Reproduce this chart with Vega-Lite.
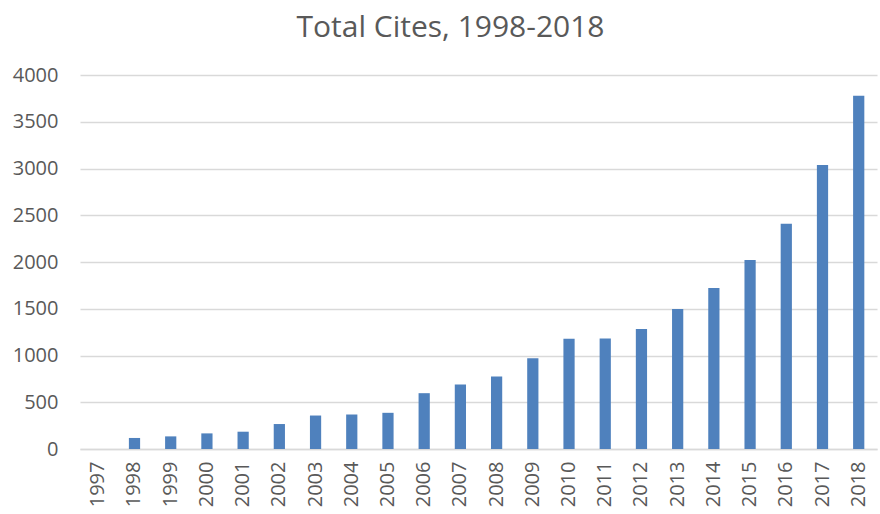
{
  "$schema": "https://vega.github.io/schema/vega-lite/v6.json",
  "width": 797,
  "height": 374,
  "autosize": {"type": "none"},
  "padding": {"left": 80, "top": 75, "right": 3, "bottom": 65},
  "background": "white",
  "title": {
    "text": "Total Cites, 1998-2018",
    "font": "Open Sans",
    "fontSize": 30,
    "fontWeight": "normal",
    "color": "#595959",
    "anchor": "middle",
    "dx": -28,
    "offset": 22
  },
  "data": {
    "values": [
      {"year": "1997", "cites": 0},
      {"year": "1998", "cites": 118},
      {"year": "1999", "cites": 135},
      {"year": "2000", "cites": 167},
      {"year": "2001", "cites": 185},
      {"year": "2002", "cites": 267},
      {"year": "2003", "cites": 358},
      {"year": "2004", "cites": 369},
      {"year": "2005", "cites": 387},
      {"year": "2006", "cites": 597},
      {"year": "2007", "cites": 690},
      {"year": "2008", "cites": 775},
      {"year": "2009", "cites": 971},
      {"year": "2010", "cites": 1178},
      {"year": "2011", "cites": 1183},
      {"year": "2012", "cites": 1283},
      {"year": "2013", "cites": 1497},
      {"year": "2014", "cites": 1722},
      {"year": "2015", "cites": 2021},
      {"year": "2016", "cites": 2410},
      {"year": "2017", "cites": 3037},
      {"year": "2018", "cites": 3779}
    ]
  },
  "mark": {"type": "bar", "color": "#4F81BD"},
  "encoding": {
    "x": {
      "field": "year",
      "type": "ordinal",
      "title": null,
      "scale": {"paddingInner": 0.69, "paddingOuter": 0.35},
      "axis": {
        "labelAngle": -90,
        "labelFont": "Open Sans",
        "labelFontSize": 20,
        "labelColor": "#595959",
        "labelPadding": 12,
        "ticks": false,
        "domainColor": "#D9D9D9",
        "domainWidth": 1.5
      }
    },
    "y": {
      "field": "cites",
      "type": "quantitative",
      "title": null,
      "scale": {"domain": [0, 4000]},
      "axis": {
        "values": [0, 500, 1000, 1500, 2000, 2500, 3000, 3500, 4000],
        "format": "d",
        "labelFont": "Open Sans",
        "labelFontSize": 20,
        "labelColor": "#595959",
        "labelPadding": 22,
        "ticks": false,
        "domain": false,
        "gridColor": "#D9D9D9",
        "gridWidth": 1.3
      }
    }
  },
  "config": {"view": {"stroke": null}}
}
